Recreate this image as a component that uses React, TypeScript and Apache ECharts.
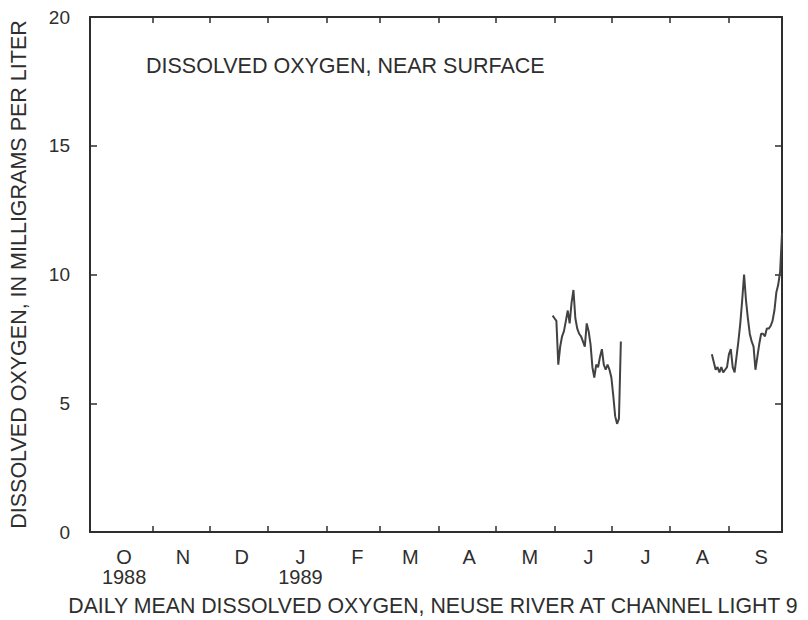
import { useEffect, useRef } from "react";
import * as echarts from "echarts";

// Days counted from 1 October 1988 (day 0)
const monthLetters = ["O", "N", "D", "J", "F", "M", "A", "M", "J", "J", "A", "S"];
const yearLabels = ["1988", "", "", "1989", "", "", "", "", "", "", "", ""];
const monthLabelDays = [16, 47, 78, 109, 139, 167, 198, 230, 261, 291, 321, 352];
const monthBoundaryDays = [31, 61, 92, 123, 151, 182, 212, 243, 273, 304, 335];
const yTickValues = [0, 5, 10, 15, 20];

// Late May – early July 1989
const seg1StartDay = 242;
const seg1Values = [
  8.4, 8.3, 8.2, 6.5, 7.2, 7.6, 7.8, 8.2, 8.6, 8.1, 8.9, 9.4, 8.3, 7.9, 7.7, 7.6,
  7.4, 7.2, 8.1, 7.8, 7.3, 6.4, 6.0, 6.5, 6.4, 6.8, 7.1, 6.5, 6.3, 6.5, 6.3, 6.0,
  5.3, 4.5, 4.2, 4.4, 7.4,
];

// Late August – end of September 1989
const seg2StartDay = 326;
const seg2Values = [
  6.9, 6.6, 6.3, 6.4, 6.2, 6.4, 6.2, 6.3, 6.4, 6.9, 7.1, 6.4, 6.2, 6.8, 7.4, 8.1,
  9.0, 10.0, 9.0, 8.3, 7.7, 7.4, 7.2, 6.3, 6.8, 7.3, 7.7, 7.7, 7.6, 7.9, 7.9, 8.0,
  8.2, 8.6, 9.3, 9.6, 10.1, 11.6,
];

const chartTitle = "DISSOLVED OXYGEN, NEAR SURFACE";
const yAxisTitle = "DISSOLVED OXYGEN, IN MILLIGRAMS PER LITER";
const caption = "DAILY MEAN DISSOLVED OXYGEN, NEUSE RIVER AT CHANNEL LIGHT 9";

const FONT = '"Liberation Sans", Arial, Helvetica, sans-serif';
const INK = "#2e2e2e";
const LINE = "#424242";

export default function App() {
  const ref = useRef<HTMLDivElement>(null);

  useEffect(() => {
    document.body.style.margin = "0";
    if (!ref.current) return;
    const chart = echarts.init(ref.current, null, { renderer: "svg" });

    const frameLine = { show: true, onZero: false, lineStyle: { color: INK, width: 2 } };

    const option: any = {
      animation: false,
      backgroundColor: "#ffffff",
      textStyle: { fontFamily: FONT },
      title: {
        text: chartTitle,
        left: 146,
        top: 55,
        padding: 0,
        textStyle: { fontSize: 21.5, fontWeight: "normal", color: INK, fontFamily: FONT },
      },
      grid: { left: 90, right: 26, top: 17, bottom: 88 },
      xAxis: [
        {
          type: "value",
          position: "bottom",
          min: -2,
          max: 363,
          axisLine: frameLine,
          axisTick: {
            show: true,
            inside: true,
            length: 6,
            customValues: monthBoundaryDays,
            lineStyle: { color: INK, width: 1.5 },
          },
          axisLabel: {
            show: true,
            customValues: monthLabelDays,
            margin: 15,
            fontSize: 20,
            lineHeight: 20,
            color: INK,
            fontFamily: FONT,
            formatter: (v: number) => {
              const i = monthLabelDays.indexOf(v);
              if (i < 0) return "";
              return yearLabels[i] ? monthLetters[i] + "\n" + yearLabels[i] : monthLetters[i];
            },
          },
          splitLine: { show: false },
        },
        {
          type: "value",
          position: "top",
          min: -2,
          max: 363,
          axisLine: frameLine,
          axisTick: {
            show: true,
            inside: true,
            length: 6,
            customValues: monthBoundaryDays,
            lineStyle: { color: INK, width: 1.5 },
          },
          axisLabel: { show: false },
          splitLine: { show: false },
        },
      ],
      yAxis: [
        {
          type: "value",
          position: "left",
          min: 0,
          max: 20,
          interval: 5,
          axisLine: frameLine,
          axisTick: {
            show: true,
            inside: true,
            length: 7,
            customValues: yTickValues,
            lineStyle: { color: INK, width: 1.5 },
          },
          axisLabel: { show: true, fontSize: 19, margin: 20, color: INK, fontFamily: FONT },
          splitLine: { show: false },
          name: yAxisTitle,
          nameLocation: "middle",
          nameRotate: 90,
          nameGap: 60,
          nameTextStyle: { fontSize: 21.5, color: INK, fontFamily: FONT },
        },
        {
          type: "value",
          position: "right",
          min: 0,
          max: 20,
          interval: 5,
          axisLine: frameLine,
          axisTick: {
            show: true,
            inside: true,
            length: 7,
            customValues: yTickValues,
            lineStyle: { color: INK, width: 1.5 },
          },
          axisLabel: { show: false },
          splitLine: { show: false },
        },
      ],
      graphic: [
        {
          type: "text",
          x: 433,
          y: 606,
          style: {
            text: caption,
            textAlign: "center",
            textVerticalAlign: "middle",
            fontSize: 21.3,
            lineHeight: 22,
            fill: INK,
            fontFamily: FONT,
          },
        },
      ],
      series: [
        {
          type: "line",
          xAxisIndex: 0,
          yAxisIndex: 0,
          data: seg1Values.map((v, i) => [seg1StartDay + i, v]),
          showSymbol: false,
          lineStyle: { color: LINE, width: 2 },
        },
        {
          type: "line",
          xAxisIndex: 0,
          yAxisIndex: 0,
          data: seg2Values.map((v, i) => [seg2StartDay + i, v]),
          showSymbol: false,
          lineStyle: { color: LINE, width: 2 },
        },
      ],
    };

    chart.setOption(option);
    return () => chart.dispose();
  }, []);

  return <div ref={ref} style={{ width: 808, height: 620 }} />;
}
